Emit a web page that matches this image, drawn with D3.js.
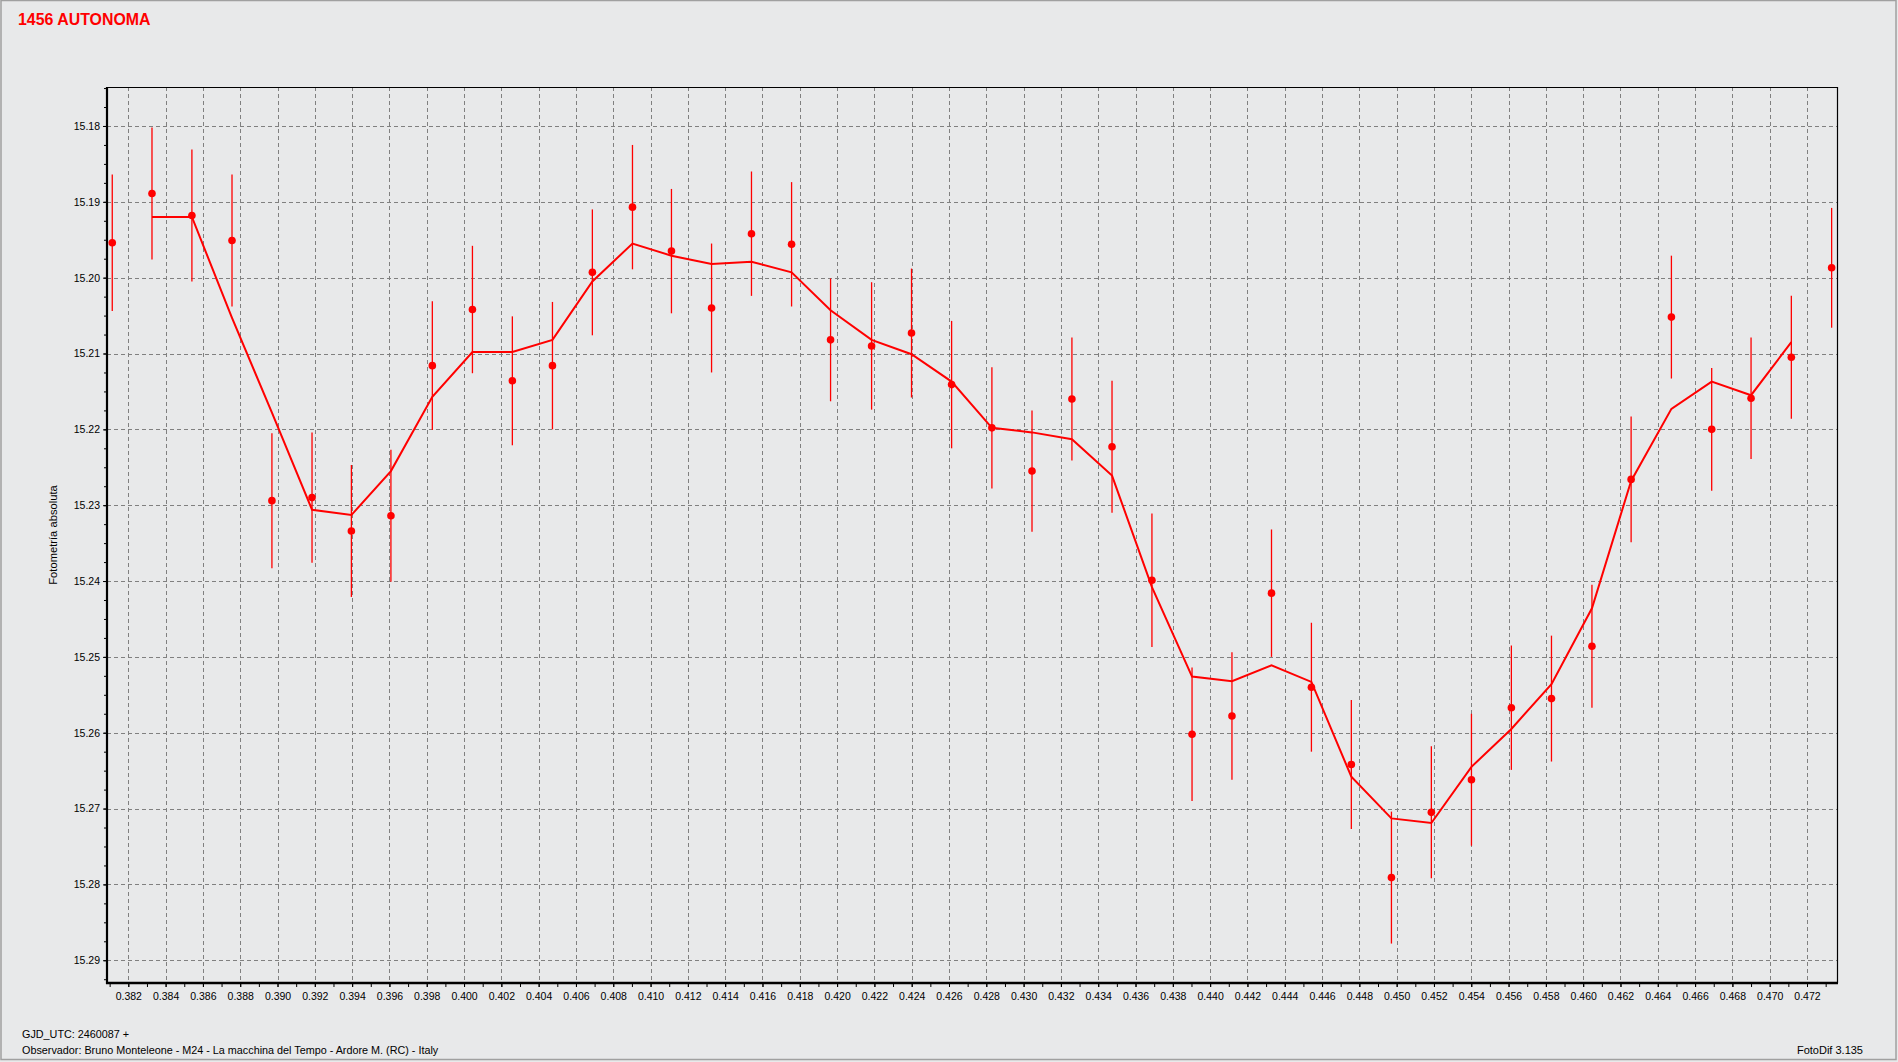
<!DOCTYPE html>
<html>
<head>
<meta charset="utf-8">
<script src="https://cdn.jsdelivr.net/npm/d3@7"></script>
<style>
  html, body { margin: 0; padding: 0; background: #e8e9ea; }
  svg { display: block; font-family: "Liberation Sans", Arial, sans-serif; }
</style>
</head>
<body>
<svg id="chart" width="1898" height="1062"></svg>
<script>
// ---- data ----
const title = "1456 AUTONOMA";
const yAxisTitle = "Fotometría absoluta";
const footLeft1 = "GJD_UTC: 2460087 +";
const footLeft2 = "Observador: Bruno Monteleone - M24 - La macchina del Tempo - Ardore M. (RC) - Italy";
const footRight = "FotoDif 3.135";

const jd = [0.38114, 0.38327, 0.38541, 0.38756, 0.38970, 0.39185, 0.39396, 0.39608, 0.39830, 0.40045,
            0.40259, 0.40474, 0.40688, 0.40903, 0.41112, 0.41327, 0.41541, 0.41756, 0.41965, 0.42185,
            0.42399, 0.42614, 0.42830, 0.43045, 0.43259, 0.43474, 0.43688, 0.43903, 0.44117, 0.44329,
            0.44543, 0.44757, 0.44972, 0.45186, 0.45401, 0.45615, 0.45830, 0.46047, 0.46257, 0.46473,
            0.46689, 0.46900, 0.47116, 0.47332];
const mag = [15.1954, 15.1889, 15.1918, 15.1951, 15.2294, 15.2290, 15.2334, 15.2314, 15.2116, 15.2042,
             15.2136, 15.2116, 15.1993, 15.1907, 15.1965, 15.2040, 15.1942, 15.1956, 15.2082, 15.2090,
             15.2073, 15.2141, 15.2198, 15.2255, 15.2160, 15.2223, 15.2399, 15.2602, 15.2578, 15.2416,
             15.2540, 15.2642, 15.2791, 15.2705, 15.2662, 15.2567, 15.2555, 15.2486, 15.2266, 15.2052,
             15.2200, 15.2159, 15.2105, 15.1987];
const err = [0.0090, 0.0087, 0.0087, 0.0087, 0.0089, 0.0086, 0.0087, 0.0087, 0.0085, 0.0084,
             0.0085, 0.0084, 0.0083, 0.0082, 0.0082, 0.0085, 0.0082, 0.0082, 0.0081, 0.0084,
             0.0085, 0.0084, 0.0080, 0.0080, 0.0081, 0.0087, 0.0088, 0.0088, 0.0084, 0.0084,
             0.0085, 0.0085, 0.0087, 0.0087, 0.0087, 0.0082, 0.0083, 0.0081, 0.0083, 0.0081,
             0.0081, 0.0080, 0.0081, 0.0079];
// smoothed curve (drawn at points 2..43)
const trendJd = [0.38327, 0.38541, 0.38756, 0.38970, 0.39185, 0.39396, 0.39608, 0.39830, 0.40045,
                 0.40259, 0.40474, 0.40688, 0.40903, 0.41112, 0.41327, 0.41541, 0.41756, 0.41965, 0.42185,
                 0.42399, 0.42614, 0.42830, 0.43045, 0.43259, 0.43474, 0.43688, 0.43903, 0.44117, 0.44329,
                 0.44543, 0.44757, 0.44972, 0.45186, 0.45401, 0.45615, 0.45830, 0.46047, 0.46257, 0.46473,
                 0.46689, 0.46900, 0.47116];
const trendMag = [15.1920, 15.1920, 15.2053, 15.2178, 15.2306, 15.2313, 15.2255, 15.2157, 15.2098,
                  15.2098, 15.2082, 15.2005, 15.1955, 15.1971, 15.1982, 15.1979, 15.1993, 15.2043, 15.2082,
                  15.2101, 15.2137, 15.2198, 15.2204, 15.2213, 15.2261, 15.2408, 15.2526, 15.2532, 15.2511,
                  15.2533, 15.2658, 15.2713, 15.2719, 15.2645, 15.2595, 15.2536, 15.2436, 15.2268, 15.2173,
                  15.2137, 15.2155, 15.2085];

const yTicks = [15.18, 15.19, 15.20, 15.21, 15.22, 15.23, 15.24, 15.25, 15.26, 15.27, 15.28, 15.29];
const xTicks = [0.382, 0.384, 0.386, 0.388, 0.390, 0.392, 0.394, 0.396, 0.398, 0.400,
                0.402, 0.404, 0.406, 0.408, 0.410, 0.412, 0.414, 0.416, 0.418, 0.420,
                0.422, 0.424, 0.426, 0.428, 0.430, 0.432, 0.434, 0.436, 0.438, 0.440,
                0.442, 0.444, 0.446, 0.448, 0.450, 0.452, 0.454, 0.456, 0.458, 0.460,
                0.462, 0.464, 0.466, 0.468, 0.470, 0.472];
const xDomain = [0.380858, 0.473608];
const yDomain = [15.17486, 15.2930];

// ---- layout ----
const L = 107, T = 87, R = 1837, B = 983;
const RED = "#ff0000";
const svg = d3.select("#chart");

svg.append("rect").attr("x", 1).attr("y", 0.5).attr("width", 1895).attr("height", 1059)
  .attr("fill", "#e8e9ea").attr("stroke", "#a0a0a0").attr("stroke-width", 1.5);

const x = d3.scaleLinear().domain(xDomain).range([L, R]);
const y = d3.scaleLinear().domain(yDomain).range([T, B]);

// grid
const grid = svg.append("g").attr("stroke", "#808080").attr("stroke-width", 1)
  .attr("stroke-dasharray", "4,3").attr("shape-rendering", "crispEdges");
grid.selectAll("line.h").data(yTicks).join("line").attr("class", "h")
  .attr("x1", L).attr("x2", R).attr("y1", d => Math.round(y(d)) + 0.5).attr("y2", d => Math.round(y(d)) + 0.5);
grid.selectAll("line.v").data(xTicks).join("line").attr("class", "v")
  .attr("y1", T).attr("y2", B).attr("x1", d => Math.round(x(d)) + 0.5).attr("x2", d => Math.round(x(d)) + 0.5);

// minor ticks
const yMinor = d3.range(0, 48).map(i => 15.175 + i * 0.0025).filter(v => v >= yDomain[0] && v <= yDomain[1]);
const xMinor = d3.range(0, 94).map(i => 0.381 + i * 0.001).filter(v => v >= xDomain[0] && v <= xDomain[1]);

svg.append("g").attr("transform", `translate(${L},0)`)
  .call(d3.axisLeft(y).tickValues(yMinor).tickFormat("").tickSize(3).tickSizeOuter(0))
  .call(g => g.select(".domain").remove())
  .selectAll("line").attr("stroke", "#000");
svg.append("g").attr("transform", `translate(0,${B})`)
  .call(d3.axisBottom(x).tickValues(xMinor).tickFormat("").tickSize(4).tickSizeOuter(0))
  .call(g => g.select(".domain").remove())
  .selectAll("line").attr("stroke", "#000");

// major axes with labels
const yAx = svg.append("g").attr("transform", `translate(${L},0)`)
  .call(d3.axisLeft(y).tickValues(yTicks).tickFormat(d3.format(".2f")).tickSize(4).tickPadding(3).tickSizeOuter(0));
yAx.select(".domain").remove();
yAx.selectAll("text").attr("font-size", "10.5px").attr("font-family", "Liberation Sans, Arial").attr("fill", "#000");
yAx.selectAll("line").attr("stroke", "#000");

const xAx = svg.append("g").attr("transform", `translate(0,${B})`)
  .call(d3.axisBottom(x).tickValues(xTicks).tickFormat(d3.format(".3f")).tickSize(4).tickPadding(6).tickSizeOuter(0));
xAx.select(".domain").remove();
xAx.selectAll("text").attr("font-size", "10.5px").attr("font-family", "Liberation Sans, Arial").attr("fill", "#000");
xAx.selectAll("line").attr("stroke", "#000");

// frame
svg.append("line").attr("x1", L).attr("x2", R).attr("y1", T + 0.5).attr("y2", T + 0.5).attr("stroke", "#000").attr("stroke-width", 1);
svg.append("line").attr("x1", R + 0.5).attr("x2", R + 0.5).attr("y1", T).attr("y2", B).attr("stroke", "#000").attr("stroke-width", 1.2);
svg.append("line").attr("x1", L).attr("x2", L).attr("y1", T).attr("y2", B + 1).attr("stroke", "#000").attr("stroke-width", 2.2);
svg.append("line").attr("x1", L - 1).attr("x2", R + 1).attr("y1", B).attr("y2", B).attr("stroke", "#000").attr("stroke-width", 2.4);

// data
const pts = jd.map((d, i) => ({ x: d, m: mag[i], e: err[i] }));
const trend = trendJd.map((d, i) => ({ x: d, m: trendMag[i] }));

const plot = svg.append("g");
plot.selectAll("line.err").data(pts).join("line").attr("class", "err")
  .attr("x1", d => x(d.x)).attr("x2", d => x(d.x))
  .attr("y1", d => y(d.m - d.e)).attr("y2", d => y(d.m + d.e))
  .attr("stroke", RED).attr("stroke-width", 1.3);

plot.append("path").datum(trend)
  .attr("d", d3.line().x(d => x(d.x)).y(d => y(d.m)))
  .attr("fill", "none").attr("stroke", RED).attr("stroke-width", 2);

plot.selectAll("circle").data(pts).join("circle")
  .attr("cx", d => x(d.x)).attr("cy", d => y(d.m)).attr("r", 3.8).attr("fill", RED);

// texts
svg.append("text").attr("x", 18).attr("y", 25).text(title)
  .attr("font-size", "15.9px").attr("font-weight", "bold").attr("fill", RED);

svg.append("text").attr("transform", "translate(57,535) rotate(-90)")
  .attr("text-anchor", "middle").attr("font-size", "11.2px").attr("fill", "#000").text(yAxisTitle);

svg.append("text").attr("x", 22).attr("y", 1038).attr("font-size", "10.8px").attr("fill", "#000").text(footLeft1);
svg.append("text").attr("x", 22).attr("y", 1054).attr("font-size", "10.8px").attr("fill", "#000").text(footLeft2);
svg.append("text").attr("x", 1863).attr("y", 1054).attr("text-anchor", "end").attr("font-size", "11px").attr("fill", "#000").text(footRight);
</script>
</body>
</html>
